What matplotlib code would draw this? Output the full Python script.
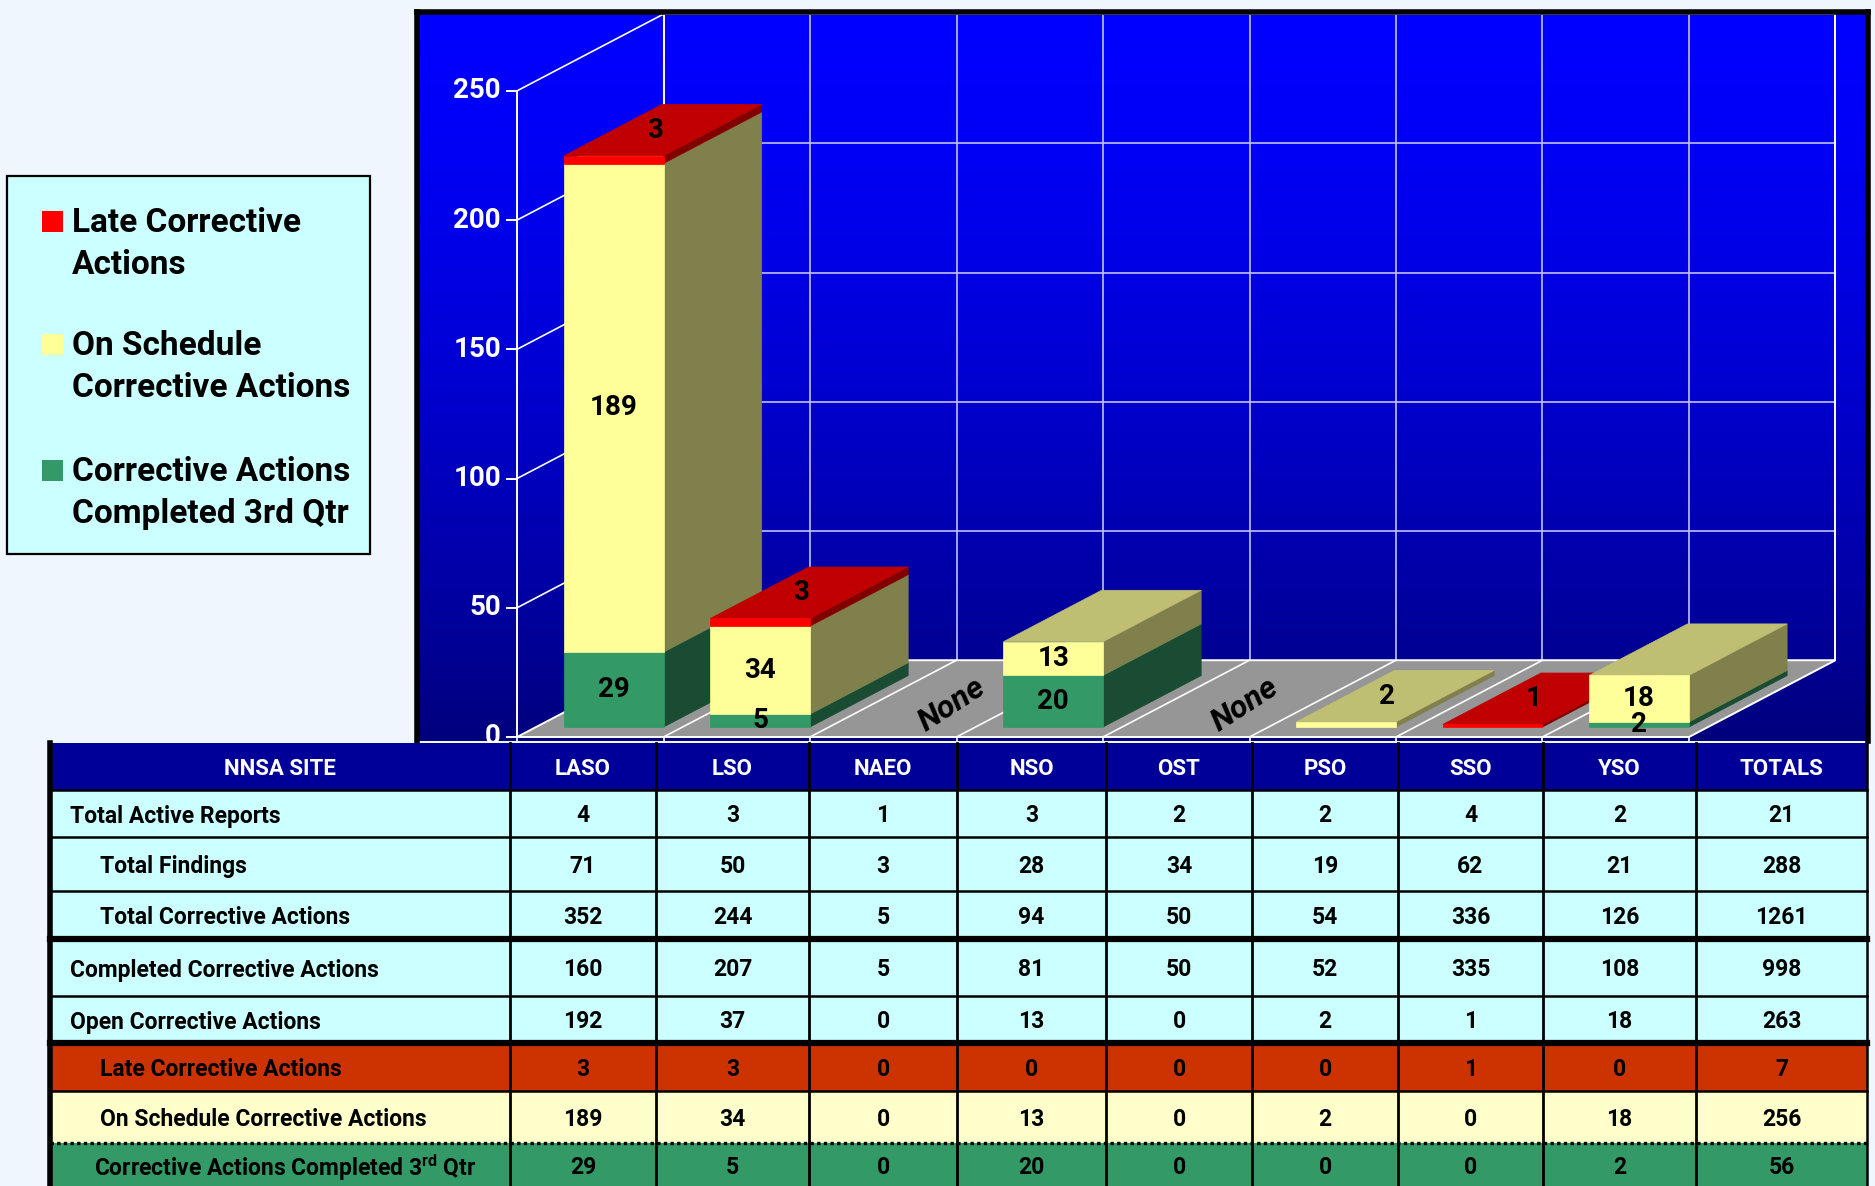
import numpy as np
import matplotlib
matplotlib.use('Agg')
import matplotlib.pyplot as plt
from matplotlib.patches import Polygon, Rectangle

plt.rcParams['font.family'] = ['Roboto', 'DejaVu Sans']
plt.rcParams['font.weight'] = 'bold'
plt.rcParams['mathtext.fontset'] = 'custom'
plt.rcParams['mathtext.rm'] = 'Roboto:bold'
plt.rcParams['mathtext.bf'] = 'Roboto:bold'

# ---------------- data ----------------
sites = ['LASO', 'LSO', 'NAEO', 'NSO', 'OST', 'PSO', 'SSO', 'YSO']
table_header = ['NNSA SITE'] + sites + ['TOTALS']
row_labels = ['Total Active Reports', 'Total Findings', 'Total Corrective Actions',
              'Completed Corrective Actions', 'Open Corrective Actions',
              'Late Corrective Actions', 'On Schedule Corrective Actions',
              r'Corrective Actions Completed 3$^{\rm rd}$ Qtr']
total_active = [4, 3, 1, 3, 2, 2, 4, 2, 21]
total_findings = [71, 50, 3, 28, 34, 19, 62, 21, 288]
total_ca = [352, 244, 5, 94, 50, 54, 336, 126, 1261]
completed_ca = [160, 207, 5, 81, 50, 52, 335, 108, 998]
open_ca = [192, 37, 0, 13, 0, 2, 1, 18, 263]
late_ca = [3, 3, 0, 0, 0, 0, 1, 0, 7]
on_schedule_ca = [189, 34, 0, 13, 0, 2, 0, 18, 256]
completed_q3 = [29, 5, 0, 20, 0, 0, 0, 2, 56]
table_rows = [total_active, total_findings, total_ca, completed_ca, open_ca,
              late_ca, on_schedule_ca, completed_q3]

series_names = ['Late Corrective\nActions', 'On Schedule\nCorrective Actions',
                'Corrective Actions\nCompleted 3rd Qtr']
chart_late = late_ca[:8]
chart_on_schedule = on_schedule_ca[:8]
chart_completed = completed_q3[:8]
y_ticks = [0, 50, 100, 150, 200, 250]

# ---------------- styles ----------------
W, H = 1875, 1186
BG = '#EFF6FE'
RED = ('#FF0000', '#C00000', '#800000')      # front, top, side
YEL = ('#FFFF99', '#BFBF73', '#80804D')
GRN = ('#339966', '#267A52', '#1A4C33')
FLOOR = '#969696'
GRID = '#C0C0FF'

fig = plt.figure(figsize=(W / 100, H / 100), dpi=100)
fig.patch.set_facecolor(BG)


def fx(px):
    return px / W


def fy(py):
    return 1 - py / H


# ---------------- chart axes ----------------
ax = fig.add_axes([fx(417), fy(741), (1868 - 417) / W, (741 - 12) / H])
XL = (-0.683, 9.222)
YL = (-1.55, 280.5)
t = np.linspace(0, 1, 256)[:, None]
blue = 255 - 130 * t ** 1.5
grad = np.dstack([np.zeros_like(blue), np.zeros_like(blue), blue / 255.0])
ax.imshow(grad, extent=(XL[0], XL[1], YL[0], YL[1]), aspect='auto', origin='upper', zorder=0)
ax.set_xlim(*XL)
ax.set_ylim(*YL)
ax.set_xticks([])
ax.set_yticks([])
for s in ['left', 'top', 'right']:
    ax.spines[s].set_color('black')
    ax.spines[s].set_linewidth(4)
ax.spines['bottom'].set_visible(False)

n = len(sites)
DX, DY = 1.0, 29.7
F0, F1 = 0.13, 0.80
U0, U1 = 0.19, 0.87
top_v = y_ticks[-1]

# back wall gridlines
for v in y_ticks[1:-1]:
    ax.plot([DX, n + DX], [v + DY, v + DY], color=GRID, lw=1.2, zorder=1)
for k in range(1, n):
    ax.plot([k + DX, k + DX], [DY, top_v + DY], color=GRID, lw=1.2, zorder=1)
ax.plot([DX, n + DX], [top_v + DY, top_v + DY], color='white', lw=1.4, zorder=1)
ax.plot([DX, DX], [DY, top_v + DY], color='white', lw=1.4, zorder=1)
ax.plot([n + DX, n + DX], [DY, top_v + DY], color='white', lw=1.4, zorder=1)
# left wall
for v in y_ticks[1:]:
    ax.plot([0, DX], [v, v + DY], color='white', lw=1.2, zorder=1)
ax.plot([0, 0], [0, top_v], color='white', lw=1.4, zorder=1)
# floor
ax.add_patch(Polygon([(0, 0), (n, 0), (n + DX, DY), (DX, DY)], closed=True,
                     facecolor=FLOOR, edgecolor='white', lw=1.4, zorder=1.5))
for k in range(1, n):
    ax.plot([k, k + DX], [0, DY], color='white', lw=1.2, zorder=1.6)
for k in range(0, n + 1):
    ax.plot([k, k], [0, -1.6], color='white', lw=1.2, zorder=1.6, clip_on=False)
# ticks and labels
for v in y_ticks:
    ax.plot([-0.07, 0], [v, v], color='white', lw=1.4, zorder=1.6, clip_on=False)
    ax.text(-0.11, v, str(v), ha='right', va='center', color='white',
            fontsize=20, fontweight='bold', zorder=2)

# bars
depth = F1 - F0
labels = []
z = 3.0
for i in range(n):
    segs = [(chart_completed[i], GRN), (chart_on_schedule[i], YEL), (chart_late[i], RED)]
    segs = [s for s in segs if s[0] > 0]
    total = sum(s[0] for s in segs)
    if total == 0:
        ax.text(i + 0.55 + 0.42 * DX, 0.42 * DY, 'None', rotation=33, ha='center',
                va='center', fontsize=23, fontweight='bold', style='italic',
                color='black', zorder=2.5)
        continue
    base = 0
    for j, (h, cols) in enumerate(segs):
        x0 = i + U0 + F0 * DX
        x1 = i + U1 + F0 * DX
        yb = base + F0 * DY
        yt = base + h + F0 * DY
        ddx, ddy = depth * DX, depth * DY
        side = [(x1, yb), (x1 + ddx, yb + ddy), (x1 + ddx, yt + ddy), (x1, yt)]
        top = [(x0, yt), (x1, yt), (x1 + ddx, yt + ddy), (x0 + ddx, yt + ddy)]
        front = [(x0, yb), (x1, yb), (x1, yt), (x0, yt)]
        ax.add_patch(Polygon(side, closed=True, facecolor=cols[2], edgecolor=cols[2], lw=0.5, zorder=z))
        ax.add_patch(Polygon(top, closed=True, facecolor=cols[1], edgecolor=cols[1], lw=0.5, zorder=z))
        ax.add_patch(Polygon(front, closed=True, facecolor=cols[0], edgecolor=cols[0], lw=0.5, zorder=z))
        z += 0.01
        is_top = (j == len(segs) - 1)
        if is_top and h < 5:
            lx = (x0 + x1) / 2 + ddx * 0.42
            ly = yt + ddy / 2
        else:
            lx = (x0 + x1) / 2
            ly = (yb + yt) / 2
        labels.append((lx, ly, str(h)))
        base += h
for lx, ly, s in labels:
    ax.text(lx, ly, s, ha='center', va='center', fontsize=20, fontweight='bold',
            color='black', zorder=10)

# ---------------- overlay (legend + table) ----------------
tax = fig.add_axes([0, 0, 1, 1], zorder=5)
tax.set_xlim(0, W)
tax.set_ylim(H, 0)
tax.axis('off')

# legend
tax.add_patch(Rectangle((7, 176), 363, 378, facecolor='#CCFFFF', edgecolor='black', lw=1.6))
leg_cols = [RED[0], YEL[0], GRN[0]]
leg_base = [232, 355, 481]
for name, c, b in zip(series_names, leg_cols, leg_base):
    tax.add_patch(Rectangle((42, b - 21), 21, 21, facecolor=c, edgecolor='none'))
    for k, line in enumerate(name.split('\n')):
        tax.text(72, b + k * 42, line, ha='left', va='baseline', fontsize=24,
                 fontweight='bold', color='black')

# table
col_edges = [50, 510, 656, 809, 957, 1106, 1252, 1398, 1543, 1696, 1867]
row_edges = [743, 790, 837, 891, 939, 996, 1043, 1091, 1143, 1200]
row_colors = ['#000099', '#CCFFFF', '#CCFFFF', '#CCFFFF', '#CCFFFF', '#CCFFFF',
              '#CC3300', '#FFFFCC', '#339966']
indents = [70, 100, 100, 70, 70, 100, 100, 94]
for r in range(len(row_edges) - 1):
    tax.add_patch(Rectangle((col_edges[0], row_edges[r]), col_edges[-1] - col_edges[0],
                            row_edges[r + 1] - row_edges[r], facecolor=row_colors[r],
                            edgecolor='none'))
# header texts
for c, lab in enumerate(table_header):
    cx = (col_edges[c] + col_edges[c + 1]) / 2
    cy = (row_edges[0] + row_edges[1]) / 2
    tax.text(cx, cy, lab, ha='center', va='center_baseline', color='white', fontsize=16,
             fontweight='bold')
# body texts
for r, (lab, vals) in enumerate(zip(row_labels, table_rows)):
    cy = (row_edges[r + 1] + min(row_edges[r + 2], 1186)) / 2
    tax.text(indents[r], cy, lab, ha='left', va='center_baseline', color='black', fontsize=16.5,
             fontweight='bold')
    for c, v in enumerate(vals):
        cx = (col_edges[c + 1] + col_edges[c + 2]) / 2
        tax.text(cx, cy, str(v), ha='center', va='center_baseline', color='black', fontsize=16.5,
                 fontweight='bold')
# grid lines
for k, yv in enumerate(row_edges[1:-1]):
    if yv in (939, 1043):
        tax.plot([col_edges[0], col_edges[-1]], [yv, yv], color='black', lw=4.5)
    elif yv == 1143:
        tax.plot([col_edges[0], col_edges[-1]], [yv, yv], color='black', lw=2.4,
                 linestyle=(0, (1, 1)))
    else:
        tax.plot([col_edges[0], col_edges[-1]], [yv, yv], color='black', lw=1.8)
for xv in col_edges[1:-1]:
    tax.plot([xv, xv], [row_edges[0], H], color='black', lw=2.0)
tax.plot([col_edges[0], col_edges[0]], [row_edges[0], H], color='black', lw=4)
tax.plot([col_edges[-1], col_edges[-1]], [row_edges[0], H], color='black', lw=1.8)

fig.savefig('out.png', dpi=100, facecolor=BG)
